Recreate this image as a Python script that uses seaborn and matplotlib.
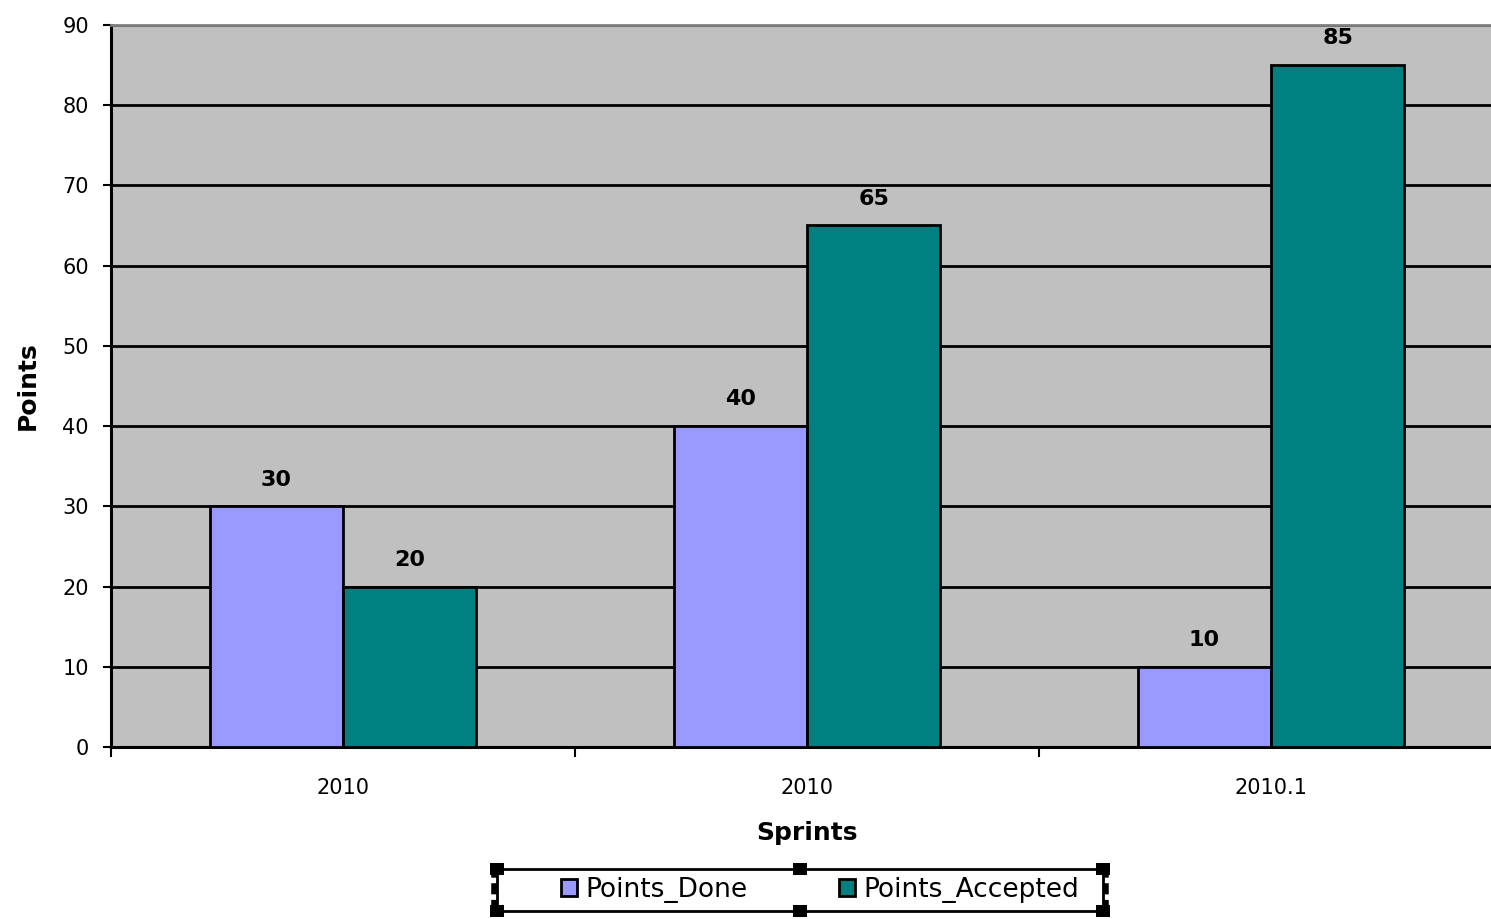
"""
Sprint points chart: done vs accepted per sprint
"""

import pandas as pd
import matplotlib
matplotlib.use("Agg")
import matplotlib.pyplot as plt
from matplotlib.patches import Rectangle
from matplotlib.lines import Line2D
import seaborn as sns

# Data
sprint_ids = ["s1", "s2", "s3"]
sprint_labels = ["2010", "2010", "2010.1"]
points_done = [30, 40, 10]
points_accepted = [20, 65, 85]
series_names = ["Points_Done", "Points_Accepted"]
y_ticks = [0, 10, 20, 30, 40, 50, 60, 70, 80, 90]

palette = {"Points_Done": "#9999FF", "Points_Accepted": "#008080"}

df = pd.DataFrame({
    "sprint": sprint_ids * 2,
    "series": [series_names[0]] * 3 + [series_names[1]] * 3,
    "points": points_done + points_accepted,
})

sns.set_style("white")
plt.rcParams["font.family"] = ["DejaVu Sans"]
plt.rcParams.update({"text.color": "black", "axes.labelcolor": "black",
                     "xtick.color": "black", "ytick.color": "black"})

W, H = 1491, 919
fig = plt.figure(figsize=(W / 100, H / 100), dpi=100)
# plot area runs slightly past the right edge, like the original
ax = fig.add_axes([0.0745, 0.187, 0.9336, 0.786])

sns.barplot(data=df, x="sprint", y="points", hue="series", order=sprint_ids,
            hue_order=series_names, palette=palette, width=0.575, saturation=1,
            edgecolor="black", linewidth=2, ax=ax, legend=True, zorder=3)

ax.set_facecolor("#C0C0C0")
ax.set_xlim(-0.5, 2.5)
ax.set_ylim(0, 90)
ax.set_yticks(y_ticks)
ax.yaxis.grid(True, color="black", linewidth=2, zorder=1)
ax.set_axisbelow(True)

# value labels above bars
for container in ax.containers:
    ax.bar_label(container, fmt="%d", padding=12, fontsize=16, fontweight="bold")

# category labels centered, tick marks at category boundaries
ax.set_xticks(range(len(sprint_ids)))
ax.set_xticklabels(sprint_labels)
ax.set_xticks([-0.5, 0.5, 1.5, 2.5], minor=True)
ax.tick_params(axis="x", which="major", length=0, pad=22, labelsize=15)
ax.tick_params(axis="x", which="minor", bottom=True, length=7, width=1.5,
               color="black", direction="out")
ax.tick_params(axis="y", length=6, width=1.5, color="black", direction="out",
               pad=10, labelsize=15, left=True)

for side in ["left", "bottom"]:
    ax.spines[side].set_color("black")
    ax.spines[side].set_linewidth(2.2)
ax.spines["top"].set_color("#808080")
ax.spines["top"].set_linewidth(2)
ax.spines["right"].set_visible(False)

ax.set_xlabel("Sprints", fontsize=18, fontweight="bold", labelpad=17)
ax.set_ylabel("Points", fontsize=18, fontweight="bold", labelpad=16)

# legend box (drawn as a selected Excel legend)
bx0, bx1, by0, by1 = 497, 1103, 869, 911
fx = lambda px: px / W
fy = lambda py: 1 - py / H
fig.add_artist(Rectangle((fx(bx0), fy(by1)), fx(bx1) - fx(bx0), fy(by0) - fy(by1),
                         transform=fig.transFigure, facecolor="white",
                         edgecolor="black", linewidth=2, zorder=1))
for hx, hy in [(bx0, by0), (bx1, by0), (bx0, by1), (bx1, by1),
               ((bx0 + bx1) / 2, by0), ((bx0 + bx1) / 2, by1)]:
    fig.add_artist(Rectangle((fx(hx - 7), fy(hy + 6)), 14 / W, 12 / H,
                             transform=fig.transFigure, facecolor="black",
                             edgecolor="none", zorder=2))
for hx in [bx0 - 3, bx1 + 3]:
    fig.add_artist(Line2D([fx(hx), fx(hx)], [fy(by1), fy(by0)],
                          transform=fig.transFigure, color="black", linewidth=4,
                          linestyle=(0, (2, 1)), zorder=2))

handles, labels = ax.get_legend_handles_labels()
ax.legend_.remove()
leg = fig.legend(handles, labels, loc="center", bbox_to_anchor=(0.55, 0.0316),
                 ncol=2, fontsize=19, frameon=False, handlelength=0.6,
                 handleheight=0.6, handletextpad=0.3, columnspacing=3.5,
                 borderpad=0.1, borderaxespad=0)
leg.set_zorder(3)
for h in leg.legend_handles:
    h.set_edgecolor("black")
    h.set_linewidth(2)

fig.savefig("out.png", dpi=100)
